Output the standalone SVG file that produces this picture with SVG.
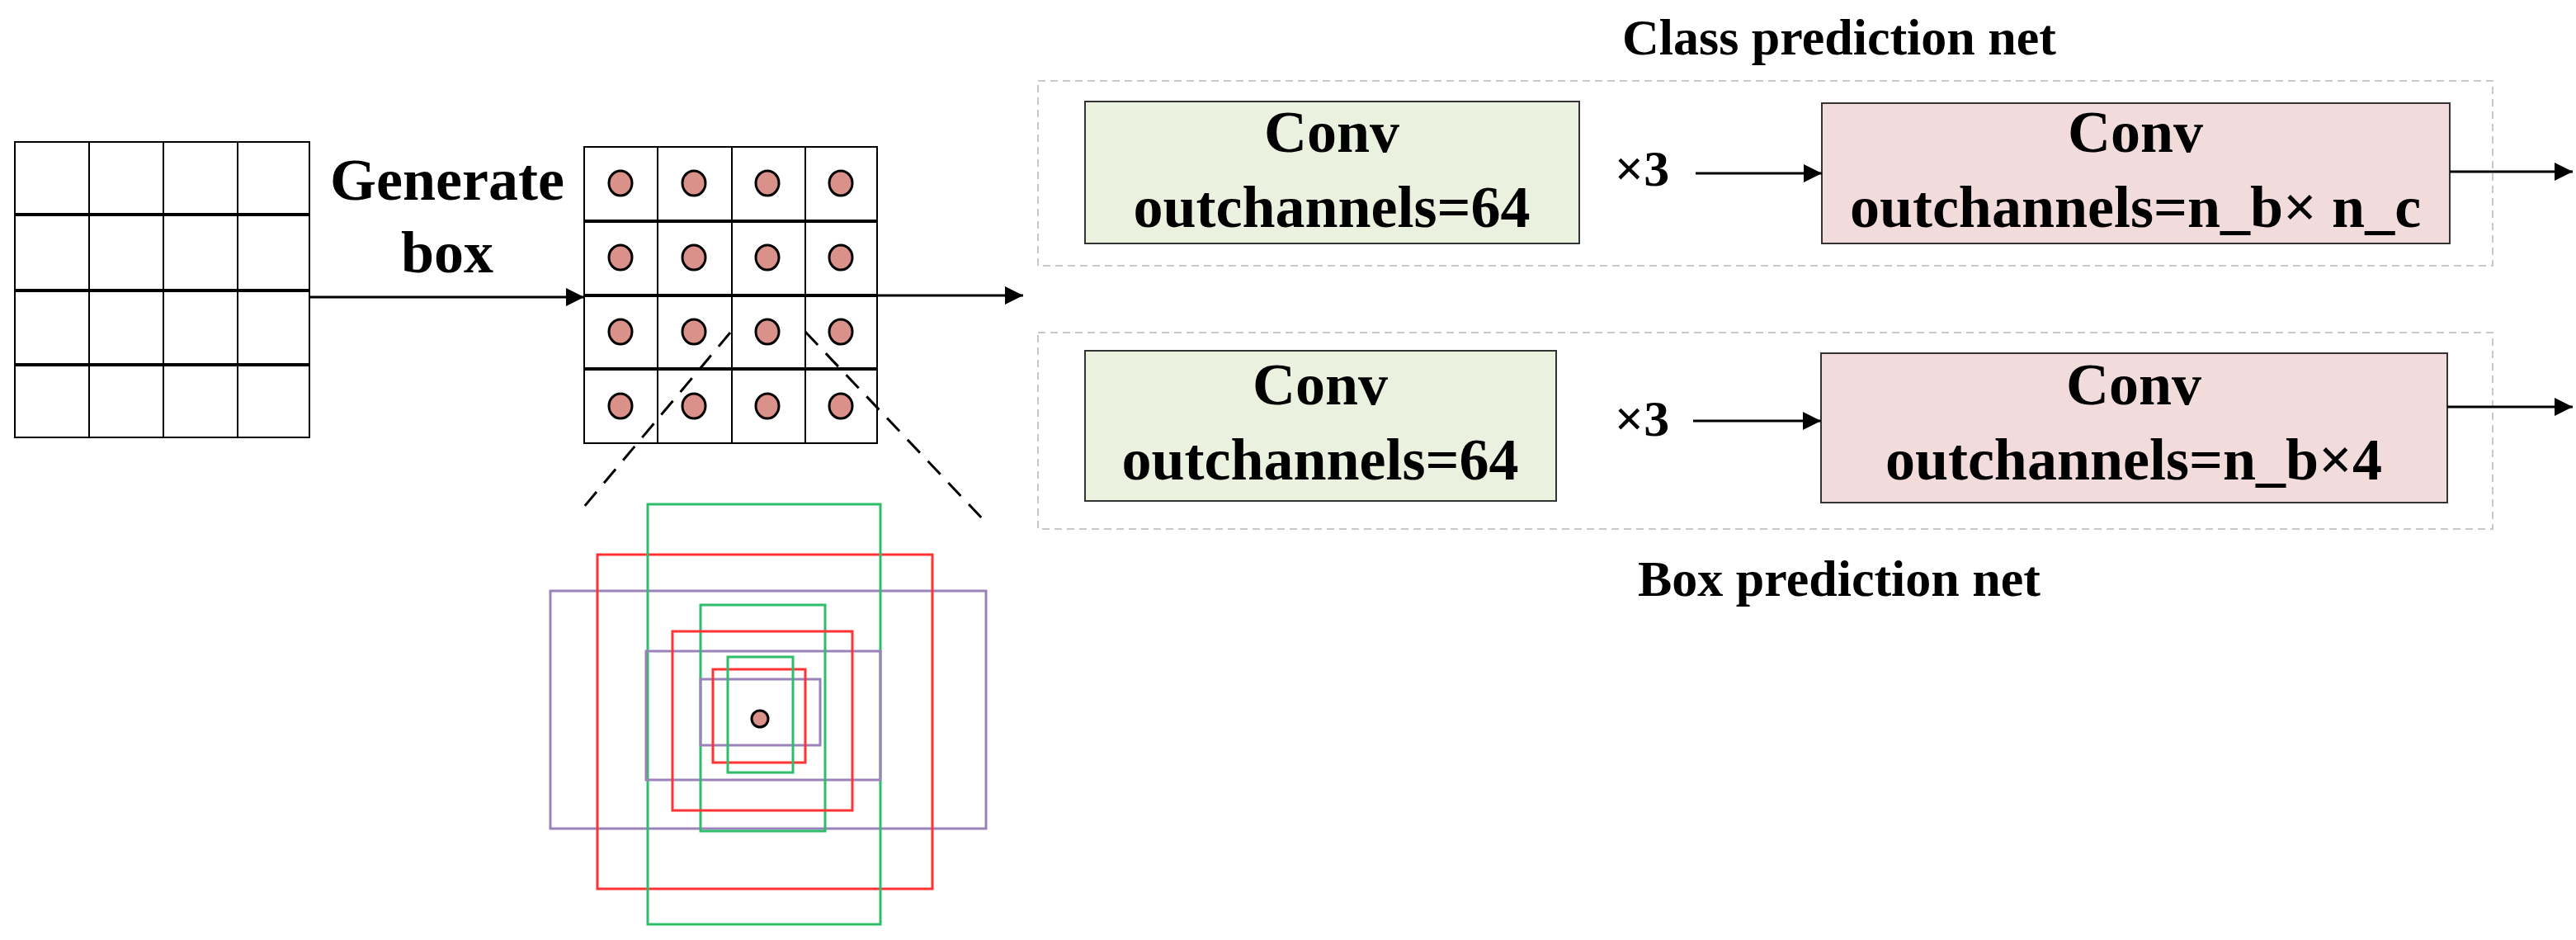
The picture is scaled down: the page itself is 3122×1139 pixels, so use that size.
<svg xmlns="http://www.w3.org/2000/svg" width="3122" height="1139" viewBox="0 0 3122 1139">
<style>
text{font-family:"Liberation Serif","Times New Roman",serif;font-weight:bold;fill:#000;text-anchor:middle}
.t{font-size:72px}
.h{font-size:62px}
.g{fill:#fff;stroke:#000;stroke-width:2}
.hl{stroke:#000;stroke-width:4}
.vl{stroke:#000;stroke-width:2}
.dot{fill:#d9918a;stroke:#000;stroke-width:3}
.dash{fill:none;stroke:#c8c8c8;stroke-width:2;stroke-dasharray:9 6}
.cg{fill:#ebf1df;stroke:#333;stroke-width:2}
.cp{fill:#f2dcdb;stroke:#333;stroke-width:2}
.ar{stroke:#000;stroke-width:3;fill:none;marker-end:url(#ah)}
.rg{fill:none;stroke:#2ebd6b;stroke-width:3}
.rr{fill:none;stroke:#ff3333;stroke-width:3}
.rp{fill:none;stroke:#9b82ba;stroke-width:3}
</style>
<defs>
<marker id="ah" markerWidth="10" markerHeight="10" refX="9" refY="5" orient="auto" markerUnits="userSpaceOnUse" viewBox="0 0 10 10"><path d="M0,0 L10,5 L0,10 z" fill="#000"/></marker>
</defs>
<defs><marker id="ah2" viewBox="0 0 10 10" refX="10" refY="5" markerWidth="22" markerHeight="22" markerUnits="userSpaceOnUse" orient="auto"><path d="M0,0 L10,5 L0,10 z" fill="#000"/></marker></defs>
<g id="grid-in">
<rect class="g" x="18" y="172" width="357" height="358"/>
<line class="hl" x1="18" y1="260" x2="375" y2="260"/>
<line class="hl" x1="18" y1="352" x2="375" y2="352"/>
<line class="hl" x1="18" y1="442" x2="375" y2="442"/>
<line class="vl" x1="108" y1="172" x2="108" y2="530"/>
<line class="vl" x1="198" y1="172" x2="198" y2="530"/>
<line class="vl" x1="288" y1="172" x2="288" y2="530"/>
</g>
<g id="label-generate">
<text class="t" x="542" y="242">Generate</text>
<text class="t" x="542" y="330">box</text>
</g>
<g id="grid-out">
<rect class="g" x="708" y="178" width="355" height="359"/>
<line class="hl" x1="708" y1="268" x2="1063" y2="268"/>
<line class="hl" x1="708" y1="358" x2="1063" y2="358"/>
<line class="hl" x1="708" y1="447" x2="1063" y2="447"/>
<line class="vl" x1="797" y1="178" x2="797" y2="537"/>
<line class="vl" x1="887" y1="178" x2="887" y2="537"/>
<line class="vl" x1="976" y1="178" x2="976" y2="537"/>
<g>
<ellipse class="dot" cx="752" cy="222" rx="14" ry="15"/><ellipse class="dot" cx="841" cy="222" rx="14" ry="15"/><ellipse class="dot" cx="930" cy="222" rx="14" ry="15"/><ellipse class="dot" cx="1019" cy="222" rx="14" ry="15"/>
<ellipse class="dot" cx="752" cy="312" rx="14" ry="15"/><ellipse class="dot" cx="841" cy="312" rx="14" ry="15"/><ellipse class="dot" cx="930" cy="312" rx="14" ry="15"/><ellipse class="dot" cx="1019" cy="312" rx="14" ry="15"/>
<ellipse class="dot" cx="752" cy="402" rx="14" ry="15"/><ellipse class="dot" cx="841" cy="402" rx="14" ry="15"/><ellipse class="dot" cx="930" cy="402" rx="14" ry="15"/><ellipse class="dot" cx="1019" cy="402" rx="14" ry="15"/>
<ellipse class="dot" cx="752" cy="492" rx="14" ry="15"/><ellipse class="dot" cx="841" cy="492" rx="14" ry="15"/><ellipse class="dot" cx="930" cy="492" rx="14" ry="15"/><ellipse class="dot" cx="1019" cy="492" rx="14" ry="15"/>
</g>
</g>
<g id="anchor-boxes">
<rect class="rp" x="667" y="716" width="528" height="288"/>
<rect class="rr" x="724" y="672" width="406" height="405"/>
<rect class="rg" x="785" y="611" width="282" height="509"/>
<rect class="rp" x="783" y="789" width="284" height="156"/>
<rect class="rg" x="849" y="733" width="151" height="274"/>
<rect class="rr" x="815" y="765" width="218" height="217"/>
<rect class="rp" x="849" y="823" width="145" height="80"/>
<rect class="rr" x="864" y="811" width="112" height="113"/>
<rect class="rg" x="882" y="796" width="79" height="140"/>
<circle class="dot" cx="921" cy="871" r="10"/>
</g>
<g id="class-net">
<text class="h" x="2229" y="66">Class prediction net</text>
<rect class="dash" x="1258" y="98" width="1763" height="224"/>
<g id="class-conv1"><rect class="cg" x="1315" y="123" width="599" height="172"/>
<text class="t" x="1614" y="184">Conv</text><text class="t" x="1614" y="275">outchannels=64</text></g>
<text class="t" x="1990" y="225" style="font-size:62px">×3</text>
<g id="class-conv2"><rect class="cp" x="2208" y="125" width="761" height="170"/>
<text class="t" x="2588" y="184">Conv</text><text class="t" x="2588" y="275">outchannels=n_b× n_c</text></g>
</g>
<g id="box-net">
<rect class="dash" x="1258" y="403" width="1763" height="238"/>
<g id="box-conv1"><rect class="cg" x="1315" y="425" width="571" height="182"/>
<text class="t" x="1600" y="490">Conv</text><text class="t" x="1600" y="581">outchannels=64</text></g>
<text class="t" x="1990" y="528" style="font-size:62px">×3</text>
<g id="box-conv2"><rect class="cp" x="2207" y="428" width="759" height="181"/>
<text class="t" x="2586" y="490">Conv</text><text class="t" x="2586" y="581">outchannels=n_b×4</text></g>
<text class="h" x="2229" y="722">Box prediction net</text>
</g>
<g id="connectors" fill="none">
<line x1="375" y1="360" x2="708" y2="360" stroke="#000" stroke-width="3" marker-end="url(#ah2)"/>
<line x1="1063" y1="358" x2="1240" y2="358" stroke="#000" stroke-width="3" marker-end="url(#ah2)"/>
<line x1="2055" y1="210" x2="2208" y2="210" stroke="#000" stroke-width="3" marker-end="url(#ah2)"/>
<line x1="2969" y1="208" x2="3118" y2="208" stroke="#000" stroke-width="3" marker-end="url(#ah2)"/>
<line x1="2052" y1="510" x2="2207" y2="510" stroke="#000" stroke-width="3" marker-end="url(#ah2)"/>
<line x1="2966" y1="493" x2="3118" y2="493" stroke="#000" stroke-width="3" marker-end="url(#ah2)"/>
<line x1="885" y1="403" x2="702" y2="621" stroke="#000" stroke-width="3" stroke-dasharray="22 14"/>
<line x1="976" y1="402" x2="1192" y2="630" stroke="#000" stroke-width="3" stroke-dasharray="22 14"/>
</g>
</svg>
